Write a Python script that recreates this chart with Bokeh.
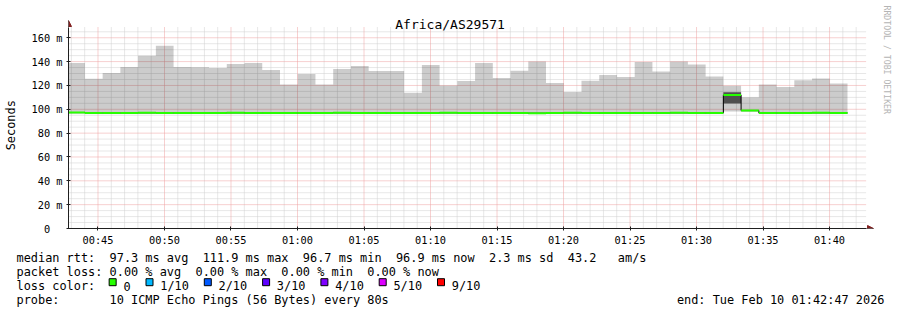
import math
from bokeh.plotting import figure
from bokeh.models import Range1d, FixedTicker, Arrow, NormalHead
from bokeh.layouts import column
from bokeh.embed import file_html
from bokeh.resources import INLINE
from bokeh.core.properties import value

# ---------------- data ----------------
title_text = "Africa/AS29571"
y_axis_label = "Seconds"
watermark_text = "RRDTOOL / TOBI OETIKER"

window_start = "00:42:47"
window_end = "01:42:47"
first_step_start = "00:42:41"
step_seconds = 80

x_tick_labels = ["00:45", "00:50", "00:55", "01:00", "01:05", "01:10", "01:15",
                 "01:20", "01:25", "01:30", "01:35", "01:40"]
y_tick_values = [0, 20, 40, 60, 80, 100, 120, 140, 160]
y_tick_labels = ["0  ", "20 m", "40 m", "60 m", "80 m", "100 m", "120 m", "140 m", "160 m"]
y_max = 168.6

# median rtt per 80 s step (ms)
median_rtt = [97.2, 96.9, 96.8, 96.9, 97.0, 96.9, 96.8, 96.9, 96.9, 97.0, 96.8,
              96.9, 96.9, 96.8, 96.9, 97.0, 96.9, 96.9, 96.8, 96.9, 96.9, 97.0,
              96.9, 96.8, 96.9, 96.9, 96.7, 96.9, 97.0, 96.9, 96.8, 96.9, 96.9,
              96.9, 97.0, 96.8, 96.9, 111.9, 99.0, 96.9, 96.8, 96.9, 97.0, 96.9]
# smoke: highest ping per step (ms)
smoke_max = [138.9, 125.6, 130.4, 135.5, 144.8, 153.2, 135.5, 135.3, 134.6, 138.0, 138.9,
             133.0, 120.8, 129.6, 120.8, 133.8, 136.3, 132.1, 132.1, 113.8, 137.2, 120.0,
             123.7, 138.9, 126.2, 132.4, 140.0, 122.0, 114.6, 123.9, 128.7, 127.0, 139.6,
             131.7, 140.0, 137.5, 127.5, 119.8, 110.0, 120.8, 118.6, 124.4, 125.8, 121.7]
# smoke: lowest ping per step (ms)
smoke_min = [96.6, 96.5, 96.4, 96.5, 96.6, 96.5, 96.4, 96.5, 96.5, 96.6, 96.4,
             96.5, 96.5, 96.4, 96.5, 96.6, 96.5, 96.5, 96.4, 96.5, 96.5, 96.6,
             96.5, 96.4, 96.5, 96.5, 96.3, 96.5, 96.6, 96.5, 96.4, 96.5, 96.5,
             96.5, 96.6, 96.4, 96.5, 98.1, 97.8, 96.5, 96.4, 96.5, 96.6, 96.5]
# dense smoke band (many pings close together)
dense_step_index = [37]
dense_low = [104.9]
dense_high = [114.2]

# legend values
rtt_avg, rtt_max, rtt_min, rtt_now, rtt_sd, am_s = 97.3, 111.9, 96.7, 96.9, 2.3, 43.2
loss_avg, loss_max, loss_min, loss_now = 0.00, 0.00, 0.00, 0.00
loss_labels = ["0", "1/10", "2/10", "3/10", "4/10", "5/10", "9/10"]
loss_colors = ["#26ff00", "#00b8ff", "#0059ff", "#5e00ff", "#7e00ff", "#dd00ff", "#ff0000"]
probe_text = "10 ICMP Echo Pings (56 Bytes) every 80s"
end_text = "end: Tue Feb 10 01:42:47 2026"

# ---------------- helpers ----------------
def to_min(s):
    parts = [int(v) for v in s.split(":")]
    while len(parts) < 3:
        parts.append(0)
    return parts[0] * 60 + parts[1] + parts[2] / 60.0

def nb(s):
    return s.replace(" ", "\u00a0")

MONO = "DejaVu Sans Mono"
GREEN = loss_colors[0]
AXIS_COL = "#1f1f1f"
ARROW_COL = "#801f1f"
MAJOR_GRID = "#ee a0a0".replace(" ", "")
MINOR_GRID = "#cfcfcf"

x0 = to_min(window_start)
x1 = to_min(window_end)
t0 = to_min(first_step_start)
n = len(median_rtt)
starts = [t0 + i * step_seconds / 60.0 for i in range(n)]
ends = [s + step_seconds / 60.0 for s in starts]

# plot geometry (pixels): data area 800 x 201, left border 66, bottom border 20
W, H_MAIN, H_LEG = 897, 248, 62
LEFT, BOTTOM = 66, 20
DATA_W, DATA_H = 800, 201
mpp = (x1 - x0) / DATA_W          # minutes per pixel
vpp = y_max / DATA_H              # ms per pixel
frame_w = W - LEFT
frame_h = H_MAIN - BOTTOM

# ---------------- main plot ----------------
p = figure(width=W, height=H_MAIN, output_backend="svg", toolbar_location=None,
           x_range=Range1d(x0, x0 + frame_w * mpp), y_range=Range1d(0, frame_h * vpp),
           min_border_left=LEFT, min_border_right=0, min_border_top=0, min_border_bottom=BOTTOM,
           background_fill_color="white", border_fill_color="white",
           outline_line_color=None)
p.xgrid.visible = False
p.ygrid.visible = False

x_ticks = [int(round(to_min(s))) for s in x_tick_labels]
x_minor = [m for m in range(int(math.ceil(x0)), int(x1) + 1) if m not in x_ticks]
y_minor = [v for v in range(0, int(y_max) + 1, 5) if v not in y_tick_values]

# grid (minor then major), dotted
p.segment(x0=x_minor, x1=x_minor, y0=[0] * len(x_minor), y1=[y_max] * len(x_minor),
          line_color=MINOR_GRID, line_dash="1 1", line_width=1)
p.segment(x0=[x0] * len(y_minor), x1=[x1] * len(y_minor), y0=y_minor, y1=y_minor,
          line_color=MINOR_GRID, line_dash="1 1", line_width=1)
p.segment(x0=x_ticks, x1=x_ticks, y0=[0] * len(x_ticks), y1=[y_max] * len(x_ticks),
          line_color=MAJOR_GRID, line_dash="1 1", line_width=1)
p.segment(x0=[x0] * len(y_tick_values), x1=[x1] * len(y_tick_values),
          y0=y_tick_values, y1=y_tick_values,
          line_color=MAJOR_GRID, line_dash="1 1", line_width=1)

# axes
p.xaxis.ticker = FixedTicker(ticks=x_ticks)
p.xaxis.major_label_overrides = {t: lab for t, lab in zip(x_ticks, x_tick_labels)}
p.xaxis.bounds = (x0, x1)
p.yaxis.ticker = FixedTicker(ticks=y_tick_values)
p.yaxis.major_label_overrides = {t: nb(lab) for t, lab in zip(y_tick_values, y_tick_labels)}
p.yaxis.bounds = (0, y_max)
for ax in (p.xaxis, p.yaxis):
    ax.axis_line_color = AXIS_COL
    ax.major_tick_line_color = AXIS_COL
    ax.minor_tick_line_color = None
    ax.major_tick_in = 2
    ax.major_tick_out = 2
    ax.major_label_text_font = MONO
    ax.major_label_text_font_size = "10.3px"
    ax.major_label_text_color = "black"
p.xaxis.major_label_standoff = 3
p.yaxis.major_label_standoff = 4
# the label is centred on the whole frame; trailing blanks move it to the data area's centre
p.yaxis.axis_label = nb(y_axis_label) + "\u00a0" * 3
p.yaxis.axis_label_text_font = MONO
p.yaxis.axis_label_text_font_size = "11.9px"
p.yaxis.axis_label_text_font_style = "normal"
p.yaxis.axis_label_text_color = "black"
p.yaxis.axis_label_standoff = 11

# smoke
p.varea_step(x=starts + [ends[-1]], y1=smoke_min + [smoke_min[-1]],
             y2=smoke_max + [smoke_max[-1]], step_mode="after",
             fill_color="black", fill_alpha=0.2)
p.quad(left=[starts[i] for i in dense_step_index], right=[ends[i] for i in dense_step_index],
       bottom=dense_low, top=dense_high, fill_color="#4f4f4f", line_color=None)

# median line: black transitions, green (0 loss) level segments
p.step(x=starts + [ends[-1]], y=median_rtt + [median_rtt[-1]], mode="after",
       line_color="black", line_width=1)
p.segment(x0=starts, x1=ends, y0=median_rtt, y1=median_rtt,
          line_color=GREEN, line_width=2)

# axis arrows
p.add_layout(Arrow(end=NormalHead(size=6, fill_color=ARROW_COL, line_color=ARROW_COL, line_width=1),
                   x_start=x1, y_start=0, x_end=x1 + 7 * mpp, y_end=0,
                   line_color=AXIS_COL, line_width=1))
p.add_layout(Arrow(end=NormalHead(size=6, fill_color=ARROW_COL, line_color=ARROW_COL, line_width=1),
                   x_start=x0, y_start=y_max, x_end=x0, y_end=y_max + 7 * vpp,
                   line_color=AXIS_COL, line_width=1))

# title (centred on the whole image) and watermark
p.text(x=[x0 + (W / 2 - LEFT) * mpp], y=[(frame_h - 24) * vpp], text=[title_text],
       text_font=value(MONO), text_font_size="13px", text_align="center",
       text_baseline="alphabetic", text_color="black")
p.text(x=[x0 + (886.5 - LEFT) * mpp], y=[(frame_h - 5) * vpp], text=[nb(watermark_text)],
       angle=-math.pi / 2, text_font=value(MONO), text_font_size="8.2px",
       text_align="left", text_baseline="middle", text_color="#b4b4b4")

# ---------------- legend panel ----------------
L = figure(width=W, height=H_LEG, output_backend="svg", toolbar_location=None,
           x_range=Range1d(0, W), y_range=Range1d(H_LEG, 0),
           x_axis_location=None, y_axis_location=None, min_border=0,
           background_fill_color="white", border_fill_color="white",
           outline_line_color=None)
L.grid.visible = False
for fig in (p, L):
    try:
        fig.frame_align = False
    except Exception:
        pass

CW = 7.15
line1 = (f"median rtt:  {rtt_avg:.1f} ms avg  {rtt_max:.1f} ms max  {rtt_min:.1f} ms min  "
         f"{rtt_now:.1f} ms now  {rtt_sd:.1f} ms sd  {am_s:.1f}   am/s")
line2 = (f"packet loss: {loss_avg:.2f} % avg  {loss_max:.2f} % max  "
         f"{loss_min:.2f} % min  {loss_now:.2f} % now")
line3 = "loss color:"
line4 = f"probe:       {probe_text}"
baselines = [9.7, 23.7, 37.7, 51.7]
L.text(x=[16] * 4, y=baselines, text=[nb(s) for s in (line1, line2, line3, line4)],
       text_font=value(MONO), text_font_size="11.9px", text_align="left",
       text_baseline="alphabetic", text_color="black")
L.text(x=[884], y=[baselines[3]], text=[nb(end_text)],
       text_font=value(MONO), text_font_size="11.9px", text_align="right",
       text_baseline="alphabetic", text_color="black")

sq_x, lab_x = [], []
cur = 108.3
for lab in loss_labels:
    sq_x.append(cur + 3.85)
    lab_x.append(cur + 14.6)
    cur = cur + 14.6 + len(lab) * CW + 15.1
L.rect(x=sq_x, y=[baselines[2] - 4.0] * len(sq_x), width=7, height=7,
       fill_color=loss_colors, line_color="black", line_width=1)
L.text(x=lab_x, y=[baselines[2]] * len(lab_x), text=loss_labels,
       text_font=value(MONO), text_font_size="11.9px", text_align="left",
       text_baseline="alphabetic", text_color="black")

layout = column(p, L, spacing=0)
open("out.html", "w").write(file_html(layout, INLINE))
